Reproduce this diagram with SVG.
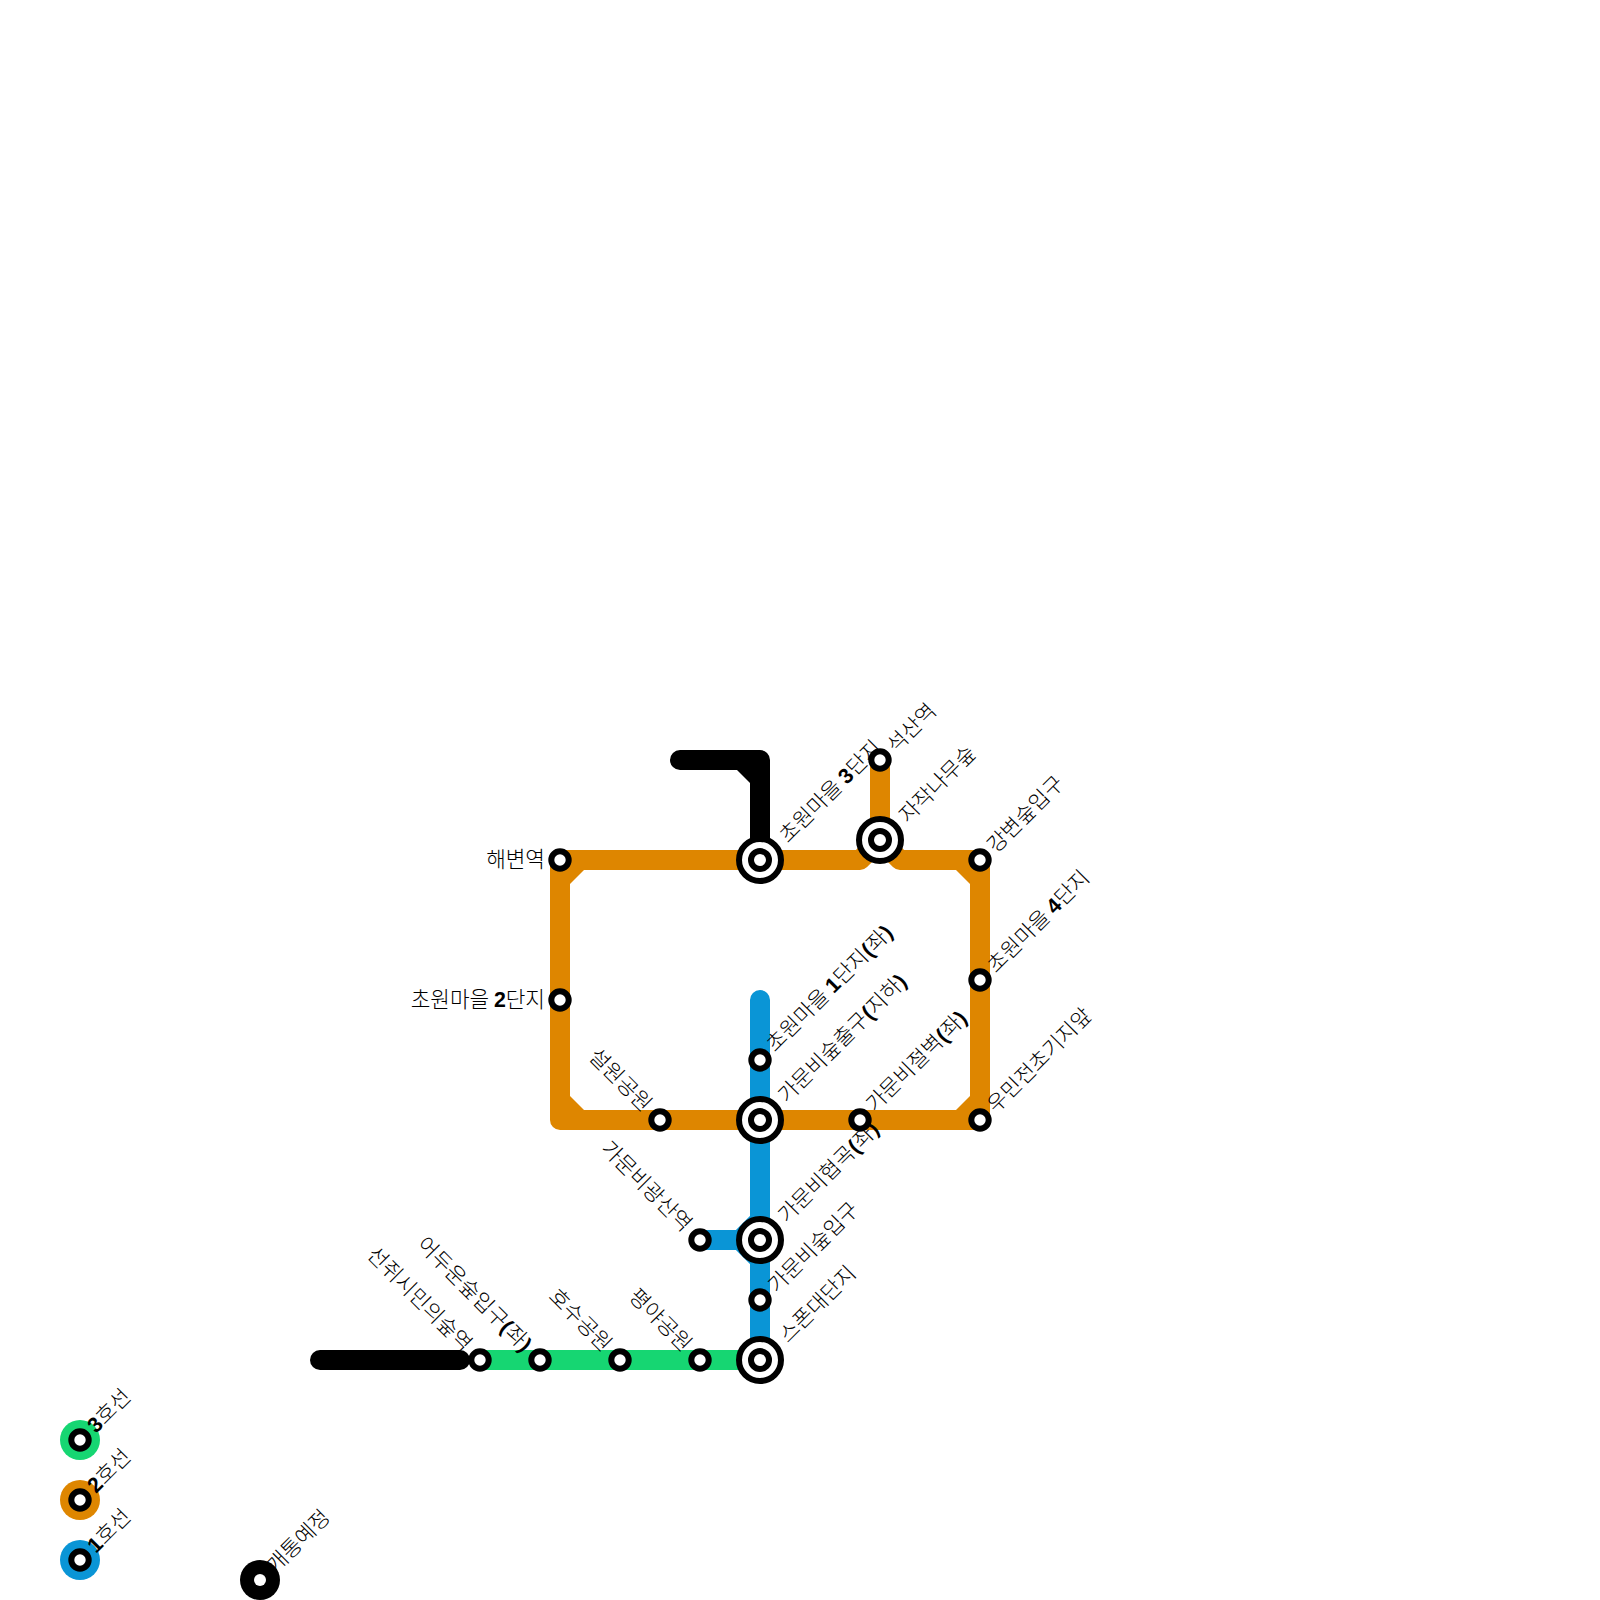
<svg xmlns="http://www.w3.org/2000/svg" width="1600" height="1600" viewBox="0 0 1600 1600">
<style>
text{font-family:"Noto Sans CJK KR","Liberation Sans",sans-serif;font-size:21.33px;font-weight:300;fill:#000}
.d{font-family:"Liberation Sans",sans-serif;font-weight:bold}
.l{fill:none;stroke-width:20;stroke-linecap:round;stroke-linejoin:round}
.k{stroke:#000}.o{stroke:#de8600}.b{stroke:#0a95d6}.g{stroke:#16d672}
.s{fill:#fff;stroke:#000;stroke-width:6}
</style>
<defs>
<g id="st"><circle class="s" r="8.7"/></g>
<g id="ic"><circle class="s" r="21"/><circle class="s" r="9"/></g>
</defs>
<g id="connectors">
<path class="l k" d="M320 1360H460"/>
<path class="l g" d="M480 1360H760"/>
<path class="l b" d="M760 1000V1360M700 1240H740L760 1220M740 1240L760 1260"/>
<path class="l o" d="M860 860H560V1120H980V860H900L880 840L860 860M880 840V760"/>
<path class="l k" d="M680 760H760V860"/>
<path d="M737 770L750 783V770Z" fill="#000"/>
<g fill="#de8600"><path d="M570 884V870H584Z"/><path d="M970 884V870H956Z"/><path d="M570 1096V1110H584Z"/><path d="M970 1096V1110H956Z"/></g>
</g>
<g id="n1"><use href="#ic" x="760" y="860"/><text transform="translate(788 844) rotate(-45)">초원마을 <tspan class="d">3</tspan>단지</text></g>
<g id="n2"><use href="#st" x="880" y="760"/><text transform="translate(896 754) rotate(-45)">석산역</text></g>
<g id="n3"><use href="#ic" x="880" y="840"/><text transform="translate(908 824) rotate(-45)">자작나무숲</text></g>
<g id="n4"><use href="#st" x="980" y="860"/><text transform="translate(996 854) rotate(-45)">강변숲입구</text></g>
<g id="n5"><use href="#st" x="980" y="980"/><text transform="translate(996 974) rotate(-45)">초원마을 <tspan class="d">4</tspan>단지</text></g>
<g id="n6"><use href="#st" x="980" y="1120"/><text transform="translate(996 1114) rotate(-45)">우민전초기지앞</text></g>
<g id="n7"><use href="#st" x="860" y="1120"/><text transform="translate(875 1113) rotate(-45)">가문비절벽<tspan class="d">(</tspan>좌<tspan class="d">)</tspan></text></g>
<g id="n8"><use href="#ic" x="760" y="1120"/><text transform="translate(787 1104) rotate(-45)">가문비숲출구<tspan class="d">(</tspan>지하<tspan class="d">)</tspan></text></g>
<g id="n9"><use href="#st" x="760" y="1060"/><text transform="translate(775 1053) rotate(-45)">초원마을 <tspan class="d">1</tspan>단지<tspan class="d">(</tspan>좌<tspan class="d">)</tspan></text></g>
<g id="n10"><use href="#ic" x="760" y="1240"/><text transform="translate(787 1224) rotate(-45)">가문비협곡<tspan class="d">(</tspan>좌<tspan class="d">)</tspan></text></g>
<g id="n11"><use href="#st" x="760" y="1300"/><text transform="translate(777 1294) rotate(-45)">가문비숲입구</text></g>
<g id="n12"><use href="#ic" x="760" y="1360"/><text transform="translate(788 1344) rotate(-45)">스폰대단지</text></g>
<g id="n13"><use href="#st" x="700" y="1240"/><text text-anchor="end" transform="translate(683 1233) rotate(45)">가문비광산역</text></g>
<g id="n14"><use href="#st" x="660" y="1120"/><text text-anchor="end" transform="translate(643 1113) rotate(45)">설원공원</text></g>
<g id="n15"><use href="#st" x="700" y="1360"/><text text-anchor="end" transform="translate(683 1353) rotate(45)">평야공원</text></g>
<g id="n16"><use href="#st" x="620" y="1360"/><text text-anchor="end" transform="translate(603 1353) rotate(45)">호수공원</text></g>
<g id="n17"><use href="#st" x="540" y="1360"/><text text-anchor="end" transform="translate(523 1353) rotate(45)">어두운숲입구<tspan class="d">(</tspan>좌<tspan class="d">)</tspan></text></g>
<g id="n18"><use href="#st" x="480" y="1360"/><text text-anchor="end" transform="translate(463 1353) rotate(45)">선쥐시민의숲역</text></g>
<g id="n19"><use href="#st" x="560" y="860"/><text text-anchor="end" x="545" y="867">해변역</text></g>
<g id="n20"><use href="#st" x="560" y="1000"/><text text-anchor="end" x="545" y="1007">초원마을 <tspan class="d">2</tspan>단지</text></g>
<g id="legend3"><circle cx="80" cy="1440" r="20" fill="#16d672"/><use href="#st" x="80" y="1440"/><text transform="translate(96 1434) rotate(-45)"><tspan class="d">3</tspan>호선</text></g>
<g id="legend2"><circle cx="80" cy="1500" r="20" fill="#de8600"/><use href="#st" x="80" y="1500"/><text transform="translate(96 1494) rotate(-45)"><tspan class="d">2</tspan>호선</text></g>
<g id="legend1"><circle cx="80" cy="1560" r="20" fill="#0a95d6"/><use href="#st" x="80" y="1560"/><text transform="translate(96 1554) rotate(-45)"><tspan class="d">1</tspan>호선</text></g>
<g id="legend0"><circle cx="260" cy="1580" r="20" fill="#000"/><circle cx="260" cy="1580" r="6" fill="#fff"/><text transform="translate(276 1574) rotate(-45)">개통예정</text></g>
</svg>
